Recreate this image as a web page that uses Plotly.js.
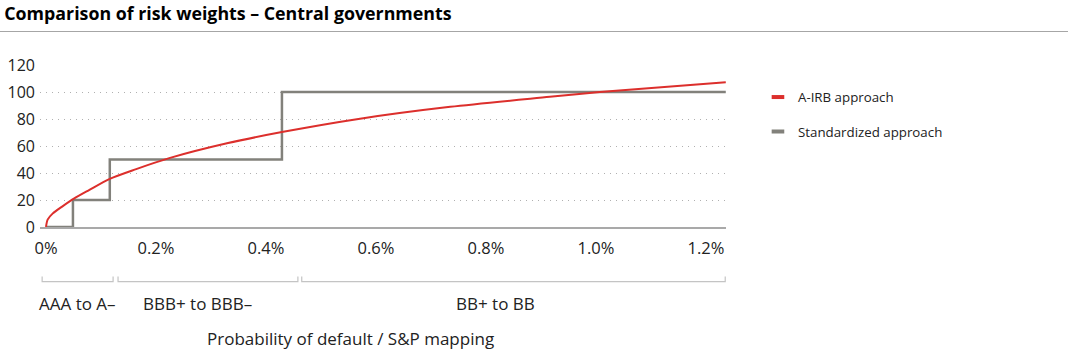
<!DOCTYPE html>
<html>
<head>
<meta charset="utf-8">
<script src="https://cdn.plot.ly/plotly-3.0.1.min.js"></script>
<style>html,body{margin:0;padding:0;background:#fff;}#chart{width:1068px;height:351px;}</style>
</head>
<body>
<div id="chart"></div>
<script>
// ---- data ----
const chartTitle = "Comparison of risk weights – Central governments";
const xAxisTitle = "Probability of default / S&P mapping";
const seriesNames = ["A-IRB approach", "Standardized approach"];
// A-IRB risk weight curve (PD in %, risk weight in %)
const irbPD = [0, 0.003, 0.012, 0.030, 0.050, 0.079, 0.115, 0.164, 0.224, 0.329, 0.429, 0.571, 0.735, 0.916, 1.007, 1.236];
const irbRW = [0, 5.5, 9.9, 15.3, 20.8, 27.5, 35.5, 42.9, 51.0, 62.0, 70.3, 80.2, 89.0, 96.4, 100.0, 107.3];
// Standardized approach steps
const stdPD = [0, 0.049, 0.116, 0.429, 1.236];
const stdRW = [0, 20, 50, 100, 100];
// x ticks
const xTickVals = [0, 0.2, 0.4, 0.6, 0.8, 1.0, 1.2];
const xTickText = ["0%", "0.2%", "0.4%", "0.6%", "0.8%", "1.0%", "1.2%"];
const yTickVals = [0, 20, 40, 60, 80, 100, 120];
// S&P rating bands
const bandLabels = ["AAA to A–", "BBB+ to BBB–", "BB+ to BB"];
const bandStart = [-0.007, 0.131, 0.465];
const bandEnd = [0.122, 0.458, 1.235];

// ---- style ----
const RED = "#dc2f2c";
const GREY = "#82817b";
const FONT = "Open Sans, Noto Sans, sans-serif";
const bandLabelShift = [0, -10, -18];

const traces = [
  {x: stdPD, y: stdRW, type: "scatter", mode: "lines", name: seriesNames[1],
   line: {color: GREY, width: 2.5, shape: "hv"}, showlegend: false},
  {x: irbPD, y: irbRW, type: "scatter", mode: "lines", name: seriesNames[0],
   line: {color: RED, width: 2, shape: "spline", smoothing: 0.8}, showlegend: false},
  {x: [null], y: [null], type: "scatter", mode: "markers", name: seriesNames[0], legend: "legend",
   marker: {symbol: "line-ew", size: 9, color: RED, line: {color: RED, width: 4}}},
  {x: [null], y: [null], type: "scatter", mode: "markers", name: seriesNames[1], legend: "legend2",
   marker: {symbol: "line-ew", size: 9, color: GREY, line: {color: GREY, width: 4}}}
];

const shapes = [
  {type: "line", xref: "paper", yref: "paper", x0: -0.0583, x1: 1.4985, y0: 1.2067, y1: 1.2067,
   line: {color: "#a6a6a6", width: 1}}
];
const annotations = [];
const yLine = -0.3374, yTick = -0.305;
for (let i = 0; i < bandLabels.length; i++) {
  shapes.push({type: "path", xref: "x", yref: "paper",
    path: `M${bandStart[i]},${yTick} L${bandStart[i]},${yLine} L${bandEnd[i]},${yLine} L${bandEnd[i]},${yTick}`,
    line: {color: "#c4c4c4", width: 1.2}});
  annotations.push({xref: "x", yref: "paper", x: (bandStart[i] + bandEnd[i]) / 2, y: -0.475,
    xshift: bandLabelShift[i], text: bandLabels[i], showarrow: false,
    font: {family: FONT, size: 17, color: "#222"}, xanchor: "center", yanchor: "middle"});
}
// x-axis title (placed as in the reference, left of plot centre)
annotations.push({xref: "paper", yref: "paper", x: 0.452, y: -0.69, text: xAxisTitle, showarrow: false,
  font: {family: FONT, size: 17, color: "#222"}, xanchor: "center", yanchor: "middle"});

const layout = {
  width: 1068, height: 351,
  margin: {l: 40, r: 342, t: 64.5, b: 123.5},
  paper_bgcolor: "#fff", plot_bgcolor: "#fff",
  font: {family: FONT, color: "#222"},
  title: {text: "<b>" + chartTitle + "</b>", x: 0.004, xanchor: "left", xref: "container",
          y: 0.962, yanchor: "middle", yref: "container",
          font: {family: FONT, size: 17.8, color: "#000"}},
  xaxis: {range: [-0.0109, 1.2364], tickvals: xTickVals, ticktext: xTickText,
          showgrid: false, zeroline: false, showline: true, linecolor: "#a9a9a9", linewidth: 1.5,
          ticks: "", tickfont: {family: FONT, size: 16.5, color: "#222"}, ticklabelstandoff: 6},
  yaxis: {range: [0, 120], tickvals: yTickVals, showgrid: true, gridcolor: "#b0b0b0", griddash: "1px,5px",
          gridwidth: 1, zeroline: false, showline: false, ticks: "",
          tickfont: {family: FONT, size: 16, color: "#222"}, ticklabelstandoff: 4},
  legend: {x: 1.0466, y: 0.80, xanchor: "left", yanchor: "middle", bgcolor: "rgba(0,0,0,0)",
           font: {family: FONT, size: 13.3, color: "#222"}},
  legend2: {x: 1.0466, y: 0.587, xanchor: "left", yanchor: "middle", bgcolor: "rgba(0,0,0,0)",
           font: {family: FONT, size: 13.3, color: "#222"}},
  shapes: shapes,
  annotations: annotations
};

Plotly.newPlot("chart", traces, layout, {displayModeBar: false, staticPlot: true});
</script>
</body>
</html>
